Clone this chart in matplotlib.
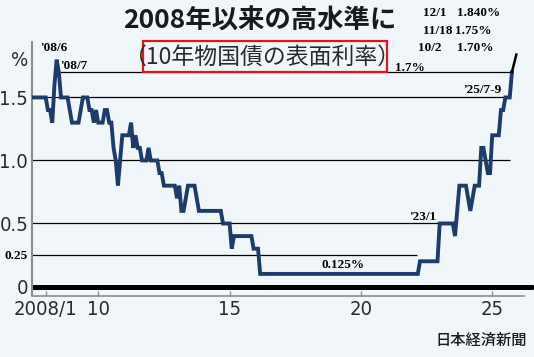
import numpy as np
import matplotlib
matplotlib.use("Agg")
import matplotlib.pyplot as plt
from matplotlib import font_manager as fm
from matplotlib.patches import Rectangle

# 10-year JGB coupon rate (%), monthly from 2007/7 to 2025/10
start_year = 2007.5
coupon = (
    [1.5, 1.5, 1.5, 1.5, 1.5, 1.5]                                   # 2007 H2
    + [1.5, 1.4, 1.4, 1.3, 1.6, 1.8, 1.7, 1.5, 1.5, 1.5, 1.5, 1.4]   # 2008
    + [1.3, 1.3, 1.3, 1.3, 1.4, 1.5, 1.5, 1.5, 1.4, 1.4, 1.3, 1.4]   # 2009
    + [1.3, 1.3, 1.3, 1.4, 1.4, 1.3, 1.3, 1.1, 1.0, 0.8, 1.0, 1.2]   # 2010
    + [1.2, 1.2, 1.2, 1.3, 1.1, 1.2, 1.1, 1.1, 1.0, 1.0, 1.0, 1.1]   # 2011
    + [1.0, 1.0, 1.0, 1.0, 0.9, 0.9, 0.8, 0.8, 0.8, 0.8, 0.8, 0.8]   # 2012
    + [0.7, 0.8, 0.6, 0.6, 0.7, 0.8, 0.8, 0.8, 0.8, 0.7, 0.6, 0.6]   # 2013
    + [0.6, 0.6, 0.6, 0.6, 0.6, 0.6, 0.6, 0.6, 0.6, 0.5, 0.5, 0.5]   # 2014
    + [0.5, 0.3, 0.4, 0.4, 0.4, 0.4, 0.4, 0.4, 0.4, 0.4, 0.4, 0.3]   # 2015
    + [0.3, 0.3] + [0.1] * 10                                        # 2016
    + [0.1] * 60                                                     # 2017-2021
    + [0.1, 0.1, 0.1] + [0.2] * 9                                    # 2022
    + [0.5, 0.5, 0.5, 0.5, 0.5, 0.5, 0.5, 0.4, 0.6, 0.8, 0.8, 0.8]   # 2023
    + [0.8, 0.7, 0.6, 0.7, 0.8, 0.8, 0.8, 1.1, 1.1, 1.0, 0.9, 0.9]   # 2024
    + [1.2, 1.2, 1.2, 1.2, 1.4, 1.4, 1.5, 1.5, 1.5, 1.7]             # 2025
)

# latest auctions (black extension)
latest_dates = [2025 + 9 / 12 + 1 / 365, 2025 + 10 / 12 + 17 / 365, 2025 + 11 / 12]
latest_rates = [1.70, 1.75, 1.84]
latest_labels = ["10/2", "11/18", "12/1"]
latest_texts = ["1.70%", "1.75%", "1.840%"]

xtick_pos = [2008, 2010, 2015, 2020, 2025]
xtick_lab = ["2008/1", "10", "15", "20", "25"]
ytick_pos = [0, 0.25, 0.5, 1.0, 1.5, 1.81]
ytick_lab = ["0", "0.25", "0.5", "1.0", "1.5", "%"]

# pick a condensed sans if one is installed
narrow, stretch, tick_size = "DejaVu Sans", "normal", 12.5
for f in fm.fontManager.ttflist:
    if "Narrow" in f.name or "Condensed" in f.name or f.stretch in ("condensed", "semi-condensed"):
        narrow, stretch, tick_size = f.name, f.stretch, 14.5
        break
serif = "Liberation Serif"
jp = "Noto Sans CJK JP"

W, H = 534, 357
bg = "#f1f6fb"
navy = "#1d3c6a"


def fx(x):
    return x / W


def fy(y):
    return 1 - y / H


fig = plt.figure(figsize=(W / 100, H / 100), dpi=100, facecolor=bg)
ax = fig.add_axes([fx(32.3), fy(295.5), (524 - 32.3) / W, (295.5 - 42) / H])
ax.set_facecolor(bg)

dates = start_year + np.arange(len(coupon)) / 12

# reference lines
ax.hlines([1.7], 2008.54, 2025.67, color="black", lw=0.9, zorder=1)
ax.hlines([1.5, 1.0], 2007.4, 2025.67, color="black", lw=0.9, zorder=1)
ax.hlines([0.5], 2007.4, 2022.93, color="black", lw=0.9, zorder=1)
ax.hlines([0.25], 2007.4, 2022.13, color="black", lw=0.9, zorder=1)
ax.axhline(0, xmin=0.002, xmax=1.0155, color="black", lw=3.6,
           solid_capstyle="round", clip_on=False, zorder=2)

ax.plot(dates, coupon, color=navy, lw=2.8, solid_joinstyle="miter", zorder=3)
ax.plot([dates[-1], latest_dates[-1]], [coupon[-1], latest_rates[-1]],
        color="black", lw=1.8, zorder=4, clip_on=False)

ax.set_xlim(2007.49, 2026.21)
ax.set_ylim(-0.0714, 1.94)

for s in ["top", "right"]:
    ax.spines[s].set_visible(False)
ax.spines["left"].set_color("#8c8c8c")
ax.spines["left"].set_linewidth(1.5)
ax.spines["bottom"].set_color("#8c8c8c")
ax.spines["bottom"].set_linewidth(1.2)

ax.set_xticks(xtick_pos)
ax.set_xticklabels(xtick_lab, fontfamily=narrow, fontstretch=stretch,
                   fontsize=tick_size, color="#2a2a2a")
ax.tick_params(axis="x", direction="in", length=3.6, width=1, color="#8c8c8c", pad=3)
ax.set_yticks(ytick_pos)
ax.set_yticklabels(ytick_lab, fontfamily=narrow, fontstretch=stretch,
                   fontsize=tick_size, color="#2a2a2a")
ax.tick_params(axis="y", length=0, pad=3)
for lbl in ax.get_yticklabels():
    if lbl.get_text() == "0.25":
        lbl.set_fontfamily(serif)
        lbl.set_fontweight("bold")
        lbl.set_fontsize(9.5)
        lbl.set_color("black")

# titles
fig.text(fx(260), fy(21), "2008年以来の高水準に", fontfamily=jp, fontweight="bold",
         fontsize=19, color="#1a1a1a", ha="center", va="center")
fig.text(fx(262), fy(57), "（10年物国債の表面利率）", fontfamily=jp, fontsize=16.5,
         color="#2a2a2a", ha="center", va="center")
fig.add_artist(Rectangle((fx(143), fy(72)), (387 - 143) / W, (72 - 41) / H,
                         transform=fig.transFigure, fill=False, edgecolor="#e0141e", lw=1.6))

# annotations
ann = dict(fontfamily=serif, fontweight="bold", fontsize=9.5, color="black", va="center")
fig.text(fx(41), fy(48), "'08/6", ha="left", **ann)
fig.text(fx(61), fy(66), "'08/7", ha="left", **ann)
fig.text(fx(395), fy(68), "1.7%", ha="left", **ann)
fig.text(fx(502), fy(90), "'25/7-9", ha="right", **ann)
fig.text(fx(410), fy(217), "'23/1", ha="left", **ann)
fig.text(fx(322), fy(265), "0.125%", ha="left", **ann)
for lab, txt, y, xl, xv in zip(latest_labels, latest_texts, [48, 31, 13],
                               [418, 423, 423], [457, 455, 457]):
    fig.text(fx(xl), fy(y), lab, ha="left", **ann)
    fig.text(fx(xv), fy(y), txt, ha="left", **ann)

fig.text(fx(527), fy(340), "日本経済新聞", fontfamily=jp, fontweight="medium",
         fontsize=11, color="#1a1a1a", ha="right", va="center")

fig.savefig("out.png", dpi=100, facecolor=bg)
